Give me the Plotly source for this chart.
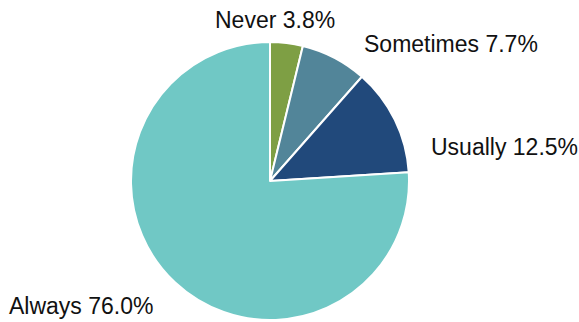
import plotly.graph_objects as go

# Survey response shares
categories = ["Never", "Sometimes", "Usually", "Always"]
shares = [3.8, 7.7, 12.5, 76.0]
colors = ["#7e9f44", "#528599", "#21497b", "#70c8c5"]

W, H = 579, 322
cx, cy, r = 270, 181, 139  # pie centre and radius in pixels

fig = go.Figure(go.Pie(
    labels=categories,
    values=shares,
    sort=False,
    direction="clockwise",
    rotation=0,
    textinfo="none",
    hoverinfo="label+percent",
    marker=dict(colors=colors, line=dict(color="white", width=2)),
    domain=dict(x=[(cx - r) / W, (cx + r) / W],
                y=[(H - cy - r) / H, (H - cy + r) / H]),
    showlegend=False,
))

# Label anchors (left edge x, vertical middle y) in pixels
label_pos = [(213, 20), (362, 44), (429, 147), (7, 306)]
for cat, val, (lx, ly) in zip(categories, shares, label_pos):
    fig.add_annotation(
        x=lx / W, y=1 - ly / H, xref="paper", yref="paper",
        xanchor="left", yanchor="middle", showarrow=False,
        text=f"{cat} {val:.1f}%",
        font=dict(family="Liberation Sans", size=23, color="#111111"),
    )

fig.update_layout(
    width=W, height=H,
    margin=dict(l=0, r=0, t=0, b=0),
    paper_bgcolor="white",
    plot_bgcolor="white",
)

fig.write_html("out.html")
